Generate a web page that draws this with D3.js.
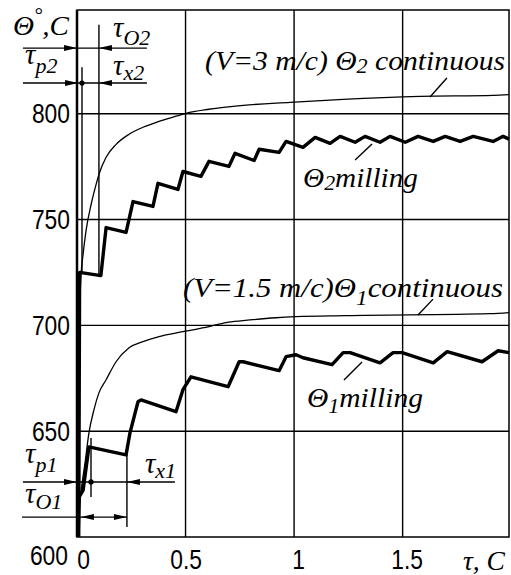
<html><head>
<meta charset="utf-8">
<script src="https://cdn.jsdelivr.net/npm/d3@7"></script>
<style>
  body { margin: 0; background: #fff; }
</style>
</head>
<body>
<div id="chart"></div>
<script>
    // values: [tau, theta]
    const milling2 = [[0.008,600],[0.012,725],[0.110,723.5],[0.134,746.2],[0.226,743.9],[0.258,758.5],[0.350,756.2],[0.373,767.1],
        [0.465,764.2],[0.488,772.7],[0.571,770.4],[0.608,777.5],[0.700,775.1],[0.728,781.3],[0.816,777.9],[0.839,783.2],
        [0.931,781.7],[0.963,786.9],[1.041,784.1],[1.097,788.8],[1.166,786.0],[1.212,789.3],[1.281,786.5],[1.327,789.3],
        [1.396,786.5],[1.442,789.3],[1.512,786.5],[1.571,789.3],[1.641,786.9],[1.696,789.3],[1.765,786.9],[1.825,789.3],
        [1.917,786.9],[1.963,789.3],[1.99,788]];
    const continuous2 = [[0,600],[0.006,680],[0.018,722.6],[0.028,733.5],[0.041,744.3],[0.065,757.1],[0.088,766.6],[0.101,771.3],
        [0.134,779.4],[0.180,785.5],[0.240,790.3],[0.304,793.6],[0.378,796.4],[0.456,798.8],[0.502,800.2],[0.608,802.1],
        [0.719,803.5],[0.982,805.4],[1.226,806.8],[1.581,808.2],[1.917,808.7],[1.99,809]];
    const milling1 = [[0.005,600],[0.01,619],[0.028,622],[0.055,642.6],[0.226,638.8],[0.244,649.2],[0.281,663.9],[0.295,664.8],
        [0.456,659.2],[0.488,669.6],[0.525,675.7],[0.696,671.0],[0.747,682.8],[0.765,682.8],[0.931,678.6],[0.963,685.2],
        [1.009,686.1],[1.041,684.7],[1.175,681.4],[1.226,687.1],[1.258,687.1],[1.396,682.3],[1.456,687.1],[1.498,687.1],
        [1.641,682.3],[1.705,687.6],[1.866,682.8],[1.940,688.0],[1.99,687.1]];
    const continuous1 = [[0,600],[0.014,617.5],[0.037,635.0],[0.055,649.2],[0.078,660.1],[0.101,668.1],[0.134,674.3],[0.180,682.8],
        [0.240,689.4],[0.304,692.3],[0.378,694.7],[0.488,697.0],[0.608,699.4],[0.687,701.3],[0.765,702.2],[0.917,703.6],
        [1.009,704.1],[1.235,704.6],[1.903,705.5],[1.99,706]];

    const yTicks = [600, 650, 700, 750, 800];
    const xTicks = [0, 0.5, 1, 1.5];

    // dimension marks near the origin (tau, theta)
    const dimLines = [[-0.249,0.322,831],[-0.249,0.322,814.5],[-0.249,0.451,626],[-0.253,0.23,609.4]];
    const extLines = [[0.101,842,723],[0.023,822,724.7],[0.0645,646.8,618.9],[0.23,638.7,604.7]];
    const arrows = [[0,831,1],[0.101,831,-1],[0.005,814.5,1],[0.101,814.5,-1],[0,626,1],[0.23,626,-1],[0.018,609.4,-1],[0.23,609.4,1]];
    const dots = [[0.023,814.5],[0.0645,626]];
    const leaders = [[1.704,816.9,1.626,807.9],[1.359,785.7,1.281,778.1],[1.640,712.4,1.571,704.9],[1.313,682.7,1.230,674.2]];

    const svgWidth = 511;
    const svgHeight = 575;
    const serif = "'Liberation Serif', 'DejaVu Serif', serif";
    const sans = "'Liberation Sans', sans-serif";

    const svg = d3.select("#chart").append("svg")
        .attr("width", svgWidth)
        .attr("height", svgHeight);

    const xScale = d3.scaleLinear().domain([0, 1.99]).range([77, 509]);
    const yScale = d3.scaleLinear().domain([600, 849]).range([537, 10]);

    // grid
    const grid = svg.append("g").attr("stroke", "#000").attr("stroke-width", 1.4);
    grid.selectAll(".hg").data(yTicks.slice(1)).join("line")
        .attr("x1", xScale(0)).attr("x2", xScale(1.99))
        .attr("y1", d => yScale(d)).attr("y2", d => yScale(d));
    grid.selectAll(".vg").data(xTicks.slice(1)).join("line")
        .attr("x1", d => xScale(d)).attr("x2", d => xScale(d))
        .attr("y1", yScale(600)).attr("y2", yScale(849));
    svg.append("rect")
        .attr("x", xScale(0)).attr("y", yScale(849))
        .attr("width", xScale(1.99) - xScale(0)).attr("height", yScale(600) - yScale(849))
        .attr("fill", "none").attr("stroke", "#000").attr("stroke-width", 1.5);
    svg.append("line")
        .attr("x1", xScale(0)).attr("x2", xScale(0))
        .attr("y1", yScale(600)).attr("y2", yScale(849))
        .attr("stroke", "#000").attr("stroke-width", 2.5);

    // narrow digits: squeeze each label to the width seen in the picture
    const labelWidth = s => s.split("").reduce((w, c) => w + (c === "." ? 6.3 : 12.7), 0);

    // axes (labels only)
    const leftAxis = d3.axisLeft(yScale).tickValues(yTicks).tickSize(0).tickPadding(7);
    const yAxis = svg.append("g").attr("transform", "translate(" + xScale(0) + ",0)").call(leftAxis);
    const bottomAxis = d3.axisBottom(xScale).tickValues(xTicks).tickSize(0).tickPadding(12).tickFormat(d3.format("~g"));
    const xAxis = svg.append("g").attr("transform", "translate(0," + yScale(600) + ")").call(bottomAxis);
    [yAxis, xAxis].forEach(a => {
        a.select(".domain").remove();
        a.selectAll("text")
            .attr("font-family", sans).attr("font-size", 28).attr("fill", "#000")
            .attr("textLength", function () { return labelWidth(this.textContent); })
            .attr("lengthAdjust", "spacingAndGlyphs");
    });
    yAxis.selectAll(".tick").filter(d => d === 600).select("text").attr("dy", "0.98em").attr("x", -9);
    xAxis.selectAll(".tick text").attr("dx", d => d === 0 ? 6 : (d >= 1 ? 4 : 0));

    // curves
    const line = d3.line().x(d => xScale(d[0])).y(d => yScale(d[1]));
    const smooth = d3.line().x(d => xScale(d[0])).y(d => yScale(d[1])).curve(d3.curveMonotoneX);
    [continuous1, continuous2].forEach(c => {
        svg.append("path").datum(c).attr("fill", "none").attr("stroke", "#000")
            .attr("stroke-width", 1.3).attr("d", smooth);
    });
    [milling1, milling2].forEach(c => {
        svg.append("path").datum(c).attr("fill", "none").attr("stroke", "#000")
            .attr("stroke-width", 3.4).attr("stroke-linejoin", "round").attr("d", line);
    });

    // dimension lines, arrows, dots, leaders
    const ann = svg.append("g").attr("stroke", "#000").attr("stroke-width", 1.4);
    ann.selectAll(".dl").data(dimLines).join("line")
        .attr("x1", d => xScale(d[0])).attr("x2", d => xScale(d[1]))
        .attr("y1", d => yScale(d[2])).attr("y2", d => yScale(d[2]));
    ann.selectAll(".el").data(extLines).join("line")
        .attr("x1", d => xScale(d[0])).attr("x2", d => xScale(d[0]))
        .attr("y1", d => yScale(d[1])).attr("y2", d => yScale(d[2]));
    ann.selectAll(".ld").data(leaders).join("line")
        .attr("x1", d => xScale(d[0])).attr("y1", d => yScale(d[1]))
        .attr("x2", d => xScale(d[2])).attr("y2", d => yScale(d[3]));
    svg.selectAll(".arrow").data(arrows).join("path")
        .attr("fill", "#000")
        .attr("d", d => {
            const x = xScale(d[0]), y = yScale(d[1]), b = x - d[2] * 13;
            return "M" + x + "," + y + "L" + b + "," + (y - 3) + "L" + b + "," + (y + 3) + "Z";
        });
    svg.selectAll(".dot").data(dots).join("circle")
        .attr("cx", d => xScale(d[0])).attr("cy", d => yScale(d[1])).attr("r", 2.6).attr("fill", "#000");

    // text labels: [tau, theta, size, parts, width] ; part = [text, shiftPx, size]
    const labels = [
        [-0.295, 837.2, 28, [["Θ", 0], ["°", -13, 20], [",C", 13]], 56],
        [0.166, 836.2, 29, [["τ", 0], ["O2", 8, 22]]],
        [0.166, 818.3, 29, [["τ", 0], ["x2", 5, 22]]],
        [-0.2395, 823.5, 29, [["τ", 0], ["p2", 9, 22]]],
        [-0.2395, 635.0, 29, [["τ", 0], ["p1", 9, 22]]],
        [-0.2395, 616.1, 29, [["τ", 0], ["O1", 6, 22]]],
        [0.313, 630.2, 29, [["τ", 0], ["x1", 5, 22]]],
        [1.778, 584.4, 27, [["τ, C", 0]], 42],
        [0.590, 820.6, 28, [["(V=3 m/c) Θ", 0], ["2", 3, 21], [" continuous", -3]], 300],
        [1.041, 765.4, 28, [["Θ", 0], ["2", 3, 21], ["milling", -3]], 115],
        [0.488, 713.4, 28, [["(V=1.5 m/c)Θ", 0], ["1", 8, 21], ["continuous", -8]], 320],
        [1.059, 661.4, 28, [["Θ", 0], ["1", 6, 21], ["milling", -6]], 116]
    ];
    labels.forEach(l => {
        const t = svg.append("text")
            .attr("x", xScale(l[0])).attr("y", yScale(l[1]))
            .attr("font-family", serif).attr("font-style", "italic")
            .attr("font-size", l[2]).attr("fill", "#000");
        if (l[4]) t.attr("textLength", l[4]).attr("lengthAdjust", "spacingAndGlyphs");
        l[3].forEach(p => {
            t.append("tspan").attr("dy", p[1]).attr("font-size", p[2] || l[2]).text(p[0]);
        });
    });
</script>
</body></html>
